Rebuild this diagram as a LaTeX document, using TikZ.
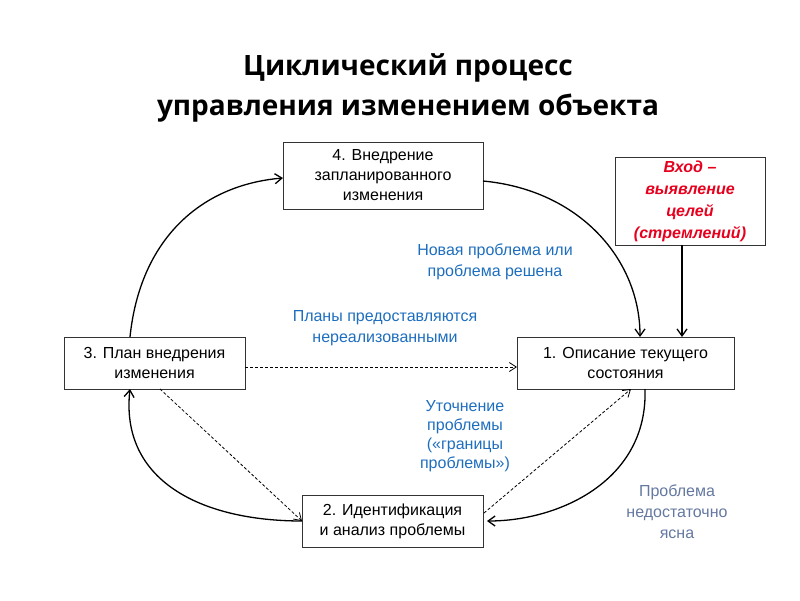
\documentclass[tikz,border=0pt]{standalone}
\usepackage{fontspec}
\setmainfont{Liberation Sans}
\newfontfamily\titlefont{Open Sans}
\usetikzlibrary{arrows.meta}
\definecolor{lblue}{RGB}{30,110,190}
\definecolor{gblue}{RGB}{100,120,160}
\definecolor{rred}{RGB}{230,0,30}
\begin{document}
\begin{tikzpicture}[x=1pt,y=-1pt,
  box/.style={draw=black!80,fill=white,align=center,font=\fontsize{16}{20}\selectfont,inner sep=0,line width=0.8pt},
  lab/.style={align=center,font=\fontsize{16}{21}\selectfont,text=lblue},
  arr/.style={-{Straight Barb[length=7pt,width=10pt]},line width=1.3pt},
  dsh/.style={-{Straight Barb[length=7pt,width=9pt]},dash pattern=on 3pt off 2pt,line width=0.8pt}]
\useasboundingbox (0,0) rectangle (800,600);
\node[font=\titlefont\bfseries\fontsize{28}{40}\selectfont,align=center] (t) at (408,88) {Циклический процесс\\ управления изменением объекта};
\node[box,minimum width=200,minimum height=67] (b4) at (383,175.5) {4. Внедрение\\запланированного\\изменения};
\node[box,minimum width=150,minimum height=88,text=rred,font=\bfseries\itshape\fontsize{16}{22}\selectfont] (r) at (690,201) {Вход –\\выявление\\целей\\(стремлений)};
\node[box,minimum width=181,minimum height=52] (b3) at (154.5,363) {3. План внедрения\\изменения};
\node[box,minimum width=217,minimum height=52] (b1) at (625.5,363) {1. Описание текущего\\состояния};
\node[box,minimum width=181,minimum height=52] (b2) at (392.5,521) {2. Идентификация\\и анализ проблемы};
\coordinate (a3t) at (130,337); \coordinate (a4l) at (283,178);
\coordinate (a4r) at (483,181); \coordinate (a1t) at (640,337);
\coordinate (rb) at (682,245); \coordinate (r1) at (682,337);
\coordinate (a1b) at (645,389); \coordinate (a2r) at (487,521);
\coordinate (a2l) at (302,521); \coordinate (a3b) at (130,389);
\draw[arr] (a3t) .. controls (140,240) and (200,185) .. (a4l);
\draw[arr] (a4r) .. controls (580,190) and (640,260) .. (a1t);
\draw[arr] (rb) -- (r1);
\draw[arr] (a1b) .. controls (648,480) and (560,521) .. (a2r);
\draw[arr] (a2l) .. controls (200,521) and (120,480) .. (a3b);
\coordinate (d3r) at (245,367); \coordinate (d1l) at (517,367);
\draw[dsh] (d3r) -- (d1l);
\coordinate (d3b) at (160,389); \coordinate (d2t) at (302,521);
\draw[dsh] (d3b) -- (d2t);
\coordinate (d2r) at (484,513); \coordinate (d1b) at (631,389);
\draw[dsh] (d2r) -- (d1b);
\node[lab] (l1) at (495,262) {Новая проблема или\\проблема решена};
\node[lab] (l2) at (385,328) {Планы предоставляются\\нереализованными};
\node[lab,font=\fontsize{16}{19}\selectfont] (l3) at (465,436) {Уточнение\\проблемы\\(«границы\\проблемы»)};
\node[lab,text=gblue,font=\fontsize{16}{21}\selectfont] (l4) at (677,512) {Проблема\\недостаточно\\ясна};
\end{tikzpicture}
\end{document}
